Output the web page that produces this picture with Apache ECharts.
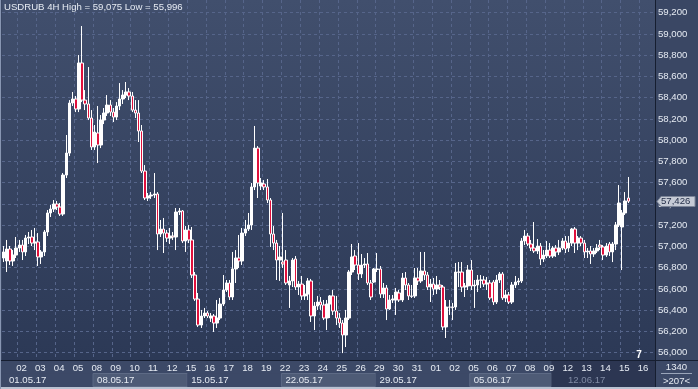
<!DOCTYPE html>
<html><head><meta charset="utf-8">
<script src="https://cdn.jsdelivr.net/npm/echarts@6/dist/echarts.min.js"></script>
<style>html,body{margin:0;padding:0;background:#3a4764;overflow:hidden}#c{width:698px;height:389px}</style>
</head><body><div id="c"></div>
<script>
const titleText = 'USDRUB 4H High = 59,075 Low = 55,996';
const days = ['01','02','03','04','05','08','09','10','11','12','15','16','17','18','19','22','23','24','25','26','29','30','31','01','02','05','06','07','08','09','12','13','14','15','16'];
const weeks = ['01.05.17','08.05.17','15.05.17','22.05.17','29.05.17','05.06.17','12.06.17'];
const slots = ['00:00','04:00','08:00','12:00','16:00','20:00'];
const yTicks = [56000,56200,56400,56600,56800,57000,57200,57400,57600,57800,58000,58200,58400,58600,58800,59000,59200];
const lastPrice = 57426;
const cornerTop = '1340';
const cornerBottom = '>207<';
const barCountMark = '7';

const open = [
56891,56863,56976,56863,56919,56985,57013,56948,57079,57089,
57032,57042,56901,56948,57136,57315,57352,57399,57371,57305,
57672,57879,58350,58388,58294,58727,58378,58341,58209,57936,
58068,57955,58190,58256,58331,58265,58218,58322,58388,58425,
58454,58416,58284,58256,58087,57710,57456,57475,57484,57494,
57117,57164,57126,57079,57098,57089,
57324,57334,57051,57155,57061,56731,56505,56260,56345,56373,
56326,56345,56279,56326,56458,56590,56656,56524,56788,56891,
56863,57126,57164,57202,57560,57926,
57569,57588,57560,57437,57117,57032,56872,56853,56872,56637,
56675,56882,56618,56646,56534,56552,56675,56345,56439,56477,
56449,56326,56458,56534,56392,56326,56279,56166,56326,56759,
56910,56825,56741,56825,56835,56656,56665,56788,56788,56552,
56609,56411,56496,
56496,56562,56496,56703,56637,56534,56534,56703,56675,56769,
56731,56618,56646,56599,56637,56618,56242,56430,56430,56430,
56759,56759,56618,56628,56778,56628,56637,56684,56684,56646,
56656,56665,56477,56684,56741,56515,56543,56477,56637,56665,
56675,57051,57098,
57023,56985,56957,57004,56882,56910,56966,56910,56985,56948,
56985,57051,56985,57032,57164,57032,57079,57032,56948,56957,
56929,56957,57013,56995,56919,57023,56948,57023,57202,57183,
57315,57456];
const close = [
56948,56976,56863,56919,56985,57013,56948,57079,57089,57032,
57042,56901,56948,57136,57315,57352,57399,57371,57305,57672,
57879,58350,58388,58294,58727,58378,58341,58209,57936,58077,
57955,58190,58256,58331,58265,58218,58322,58388,58425,58454,
58416,58284,58256,58087,57710,57456,57475,57484,57494,57117,
57164,57126,57079,57098,57089,57324,
57334,57051,57155,57061,56731,56505,56260,56345,56373,56345,
56345,56279,56326,56458,56590,56656,56524,56788,56891,56863,
57126,57164,57202,57560,57926,57597,
57597,57560,57437,57117,57032,56872,56901,56835,56656,56675,
56872,56618,56646,56534,56552,56675,56345,56439,56477,56449,
56326,56458,56534,56392,56326,56279,56166,56326,56759,56901,
56825,56741,56825,56835,56656,56524,56788,56783,56552,56609,
56411,56496,56505,
56571,56496,56703,56637,56534,56530,56703,56675,56769,56731,
56618,56646,56599,56637,56618,56242,56430,56428,56425,56759,
56757,56618,56628,56778,56628,56637,56684,56682,56646,56656,
56515,56477,56684,56741,56515,56543,56477,56637,56665,56675,
57051,57098,57023,
56985,56957,57004,56882,56919,56966,56910,56985,56948,56985,
57051,56976,57032,57164,57032,57079,57032,56948,56957,56929,
56957,56985,56995,56919,57004,56948,57023,57202,57409,57315,
57428,57426];
const low = [
56853,56759,56825,56816,56891,56948,56872,56910,57023,57004,
56966,56816,56835,56910,57098,57277,57324,57343,57287,57287,
57644,57851,58322,58265,58265,58359,58284,58190,57908,57908,
57785,57926,58152,58228,58228,58171,58190,58284,58341,58397,
58378,58265,58209,57983,57691,57437,57428,57447,57456,56966,
57089,56938,57042,57023,57061,56966,
57296,57032,56948,57032,56703,56487,56242,56232,56326,56326,
56289,56195,56232,56307,56439,56571,56496,56496,56656,56797,
56825,57098,57145,57155,57531,57456,
57531,57531,57409,56995,56966,56684,56675,56797,56637,56421,
56618,56590,56543,56496,56496,56496,56289,56213,56402,56402,
56307,56213,56326,56355,56260,56232,55996,56053,56307,56731,
56778,56684,56703,56797,56637,56496,56656,56759,56515,56515,
56307,56402,56468,
56355,56477,56477,56590,56496,56515,56515,56637,56656,56684,
56590,56477,56543,56552,56590,56213,56138,56355,56307,56402,
56618,56571,56524,56590,56590,56421,56571,56609,56618,56590,
56496,56449,56458,56656,56496,56477,56458,56458,56609,56637,
56656,57013,57004,
56957,56938,56929,56825,56853,56891,56891,56891,56901,56919,
56966,56938,56948,57004,56938,56966,57004,56891,56891,56835,
56901,56938,56966,56872,56901,56910,56853,56966,57183,56778,
57296,57409];
const high = [
57004,57061,57004,56966,57089,57061,57061,57108,57136,57155,
57174,57126,56966,57155,57343,57390,57437,57428,57409,57691,
58049,58378,58454,58416,58802,59075,58472,58689,58284,58143,
58322,58237,58303,58425,58378,58303,58359,58538,58472,58548,
58491,58454,58378,58378,58143,57766,57503,57512,57691,57512,
57249,57268,57155,57174,57136,57362,
57362,57343,57192,57202,57183,56759,56562,56402,56421,56392,
56373,56364,56496,56515,56731,56684,56684,56948,56966,57108,
57174,57249,57315,57597,58134,57945,
57644,57625,57635,57456,57192,57061,57004,57315,56966,56722,
56891,56910,56675,56722,56637,56703,56694,56477,56534,56524,
56496,56496,56543,56590,56534,56373,56307,56402,56778,57023,
56966,57032,56929,56891,56938,56684,56797,56938,56816,56656,
56637,56543,56543,
56609,56590,56750,56759,56656,56637,56797,56797,56948,56948,
56759,56694,56703,56722,56684,56637,56496,56496,56468,56844,
56853,56853,56656,56825,56872,56684,56731,56731,56722,56712,
56684,56684,56731,56759,56759,56590,56571,56665,56722,56703,
57079,57155,57126,
57061,57230,57070,57032,56966,57051,57032,57004,57013,57061,
57079,57098,57098,57174,57183,57098,57098,57061,56985,57004,
56985,57023,57061,57013,57032,57042,57042,57230,57578,57343,
57512,57654];

// categories: 4H slots per trading day (first two slots of 01.05 are off-screen)
const categories = [];
days.forEach((d, di) => slots.forEach((s, si) => { if (di * 6 + si >= 2) categories.push(d + ' ' + s); }));
const candles = open.map((o, i) => [o, close[i], low[i], high[i]]);
const futureFrom = 178; // first category of 12.06

const FONT = 'Liberation Sans';
const TXT = '#e6ebf3';
const DIM = '#7f8aa3';
const fmt = v => String(v).replace(/\B(?=(\d{3})+(?!\d))/g, ',');

const chart = echarts.init(document.getElementById('c'), null, {renderer: 'canvas'});
chart.setOption({
  animation: false,
  backgroundColor: '#3a4764',
  title: {text: titleText, left: 4, top: 2, padding: 0,
    textStyle: {fontFamily: FONT, fontSize: 9.6, fontWeight: 'normal', color: TXT}},
  grid: {left: 2, right: 43, top: 0, bottom: 29, show: true, borderWidth: 0,
    backgroundColor: new echarts.graphic.LinearGradient(0, 0, 0, 1, [
      {offset: 0, color: '#414f6d'}, {offset: 1, color: '#2c3956'}])},
  xAxis: {
    type: 'category', data: categories, boundaryGap: true, z: 5,
    axisLine: {show: false}, axisTick: {show: false},
    axisLabel: {
      interval: (i) => (i + 2) % 6 === 0,
      formatter: (v) => v.split(' ')[0],
      align: 'left', margin: 3, fontFamily: FONT, fontSize: 9.6,
      color: (v, i) => (i >= futureFrom - 2 ? DIM : TXT)
    },
    splitLine: {show: true, interval: (i) => (i + 1) % 6 === 0,
      lineStyle: {type: [3, 3], color: '#56658a', width: 1}}
  },
  yAxis: {
    type: 'value', position: 'right', min: 55931, max: 59320, z: 5,
    axisLine: {show: false},
    axisTick: {show: false, customValues: yTicks},
    axisLabel: {customValues: yTicks, formatter: fmt, margin: 3,
      fontFamily: FONT, fontSize: 9.6, color: TXT},
    splitLine: {show: true, lineStyle: {type: [3, 3], color: '#56658a', width: 1}}
  },
  series: [{
    type: 'candlestick', data: candles, z: 10, barWidth: 3,
    itemStyle: {color: '#ffffff', color0: '#e0103c', borderColor: '#ffffff', borderColor0: '#ffffff', borderWidth: 1}
  }]
});

function decorate() {
  const cx = i => chart.convertToPixel({xAxisIndex: 0}, i);
  const bw = cx(1) - cx(0);
  const edge = i => cx(i) - bw / 2;
  const plotRight = edge(categories.length);
  const yBand = 360;
  const H = 389, W = 698;
  const g = [];
  // bottom band
  g.push({type: 'rect', z: 1, shape: {x: 0, y: yBand, width: W, height: H - yBand}, style: {fill: '#3c4967'}});
  // week boxes
  const shadeX = edge(futureFrom - 3);
  weeks.forEach((w, wi) => {
    const x0 = wi === 0 ? 0 : edge(wi * 30 - 1);
    let x1 = wi < weeks.length - 1 ? edge((wi + 1) * 30 - 1) : plotRight;
    if (wi === weeks.length - 2) x1 = shadeX;
    if (wi < weeks.length - 1) {
      g.push({type: 'rect', z: 2, shape: {x: x0, y: 373.5, width: x1 - x0, height: 13},
        style: {fill: wi % 2 ? '#4e5b76' : '#3c4967', stroke: wi % 2 ? '#5d6a85' : null, lineWidth: 1}});
    }
  });
  // future shade
  g.push({type: 'rect', z: 3, shape: {x: shadeX, y: yBand + 1, width: plotRight - shadeX, height: H - yBand - 3},
    style: {fill: '#2c3652'}});
  weeks.forEach((w, wi) => {
    const x0 = wi === 0 ? 0 : edge(wi * 30 - 1);
    g.push({type: 'text', z: 4, style: {text: w, x: x0 + (wi === 0 ? 9 : 4), y: 380, verticalAlign: 'middle',
      fill: wi === weeks.length - 1 ? DIM : TXT, font: '9.6px "' + FONT + '"'}});
  });
  // separators and frame
  g.push({type: 'line', z: 6, shape: {x1: 0, y1: yBand + 0.5, x2: W, y2: yBand + 0.5}, style: {stroke: '#161e30', lineWidth: 1}});
  g.push({type: 'line', z: 6, shape: {x1: plotRight + 0.5, y1: 0, x2: plotRight + 0.5, y2: H}, style: {stroke: '#161e30', lineWidth: 1}});
  g.push({type: 'line', z: 6, shape: {x1: 0, y1: H - 1, x2: W, y2: H - 1}, style: {stroke: '#b9c2d2', lineWidth: 2}});
  g.push({type: 'line', z: 6, shape: {x1: 0.5, y1: 0, x2: 0.5, y2: H}, style: {stroke: '#8896b2', lineWidth: 1}});
  // corner box
  const cmx = (plotRight + W) / 2;
  g.push({type: 'text', z: 7, style: {text: cornerTop, x: cmx, y: 367, align: 'center', verticalAlign: 'middle', fill: TXT, font: '9.6px "' + FONT + '"'}});
  g.push({type: 'line', z: 7, shape: {x1: plotRight + 6, y1: 373.5, x2: W - 6, y2: 373.5}, style: {stroke: '#9aa5ba', lineWidth: 1}});
  g.push({type: 'text', z: 7, style: {text: cornerBottom, x: cmx, y: 381, align: 'center', verticalAlign: 'middle', fill: TXT, font: '9.6px "' + FONT + '"'}});
  // small counter near bottom right of plot
  g.push({type: 'text', z: 7, style: {text: barCountMark, x: plotRight - 16, y: 355, align: 'center', verticalAlign: 'middle', fill: '#ffffff', font: 'bold 10px "' + FONT + '"'}});
  // last price tag
  const py = Math.round(chart.convertToPixel({yAxisIndex: 0}, lastPrice)) + 0.5;
  const tx = plotRight + 2;
  g.push({type: 'polygon', z: 8, shape: {points: [[tx, py], [tx + 4, py - 5], [W - 3, py - 5], [W - 3, py + 5], [tx + 4, py + 5]]},
    style: {fill: '#c6cbd6', stroke: '#7c8598', lineWidth: 1}});
  g.push({type: 'text', z: 9, style: {text: fmt(lastPrice), x: tx + 4, y: py, verticalAlign: 'middle', fill: '#25304a', font: '9.6px "' + FONT + '"'}});
  chart.setOption({graphic: g});
}
decorate();
</script>
</body></html>
